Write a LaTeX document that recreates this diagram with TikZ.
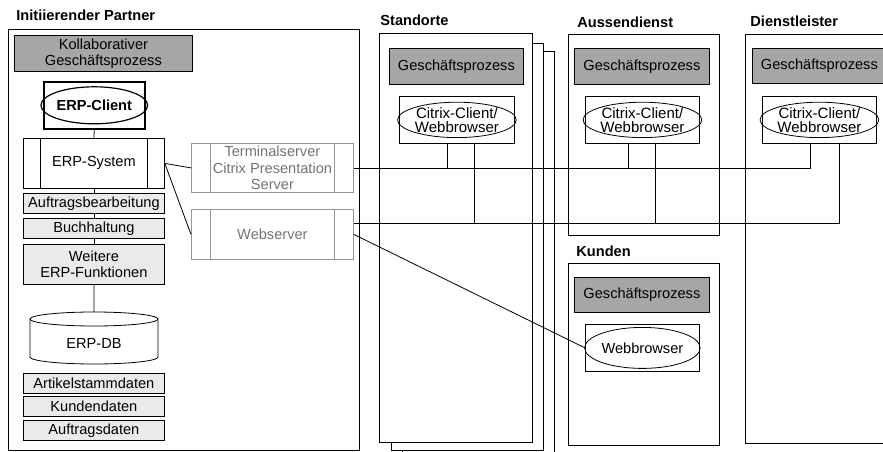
\documentclass[tikz,border=0pt]{standalone}
\usepackage{fontspec}
\setmainfont{Liberation Sans}
\usetikzlibrary{shapes.geometric}
\definecolor{gpgray}{RGB}{166,166,166}
\definecolor{fktgray}{RGB}{234,234,234}
\definecolor{srvgray}{RGB}{150,150,150}
\definecolor{srvtext}{RGB}{115,115,115}
\def\dfont{\fontsize{14.6}{16.3}\selectfont}
\def\cfont{\fontsize{15}{14}\selectfont}
\def\sidebars[#1](#2)(#3){\draw[#1] ([xshift=#3]#2.north west) -- ([xshift=#3]#2.south west); \draw[#1] ([xshift=-#3]#2.north east) -- ([xshift=-#3]#2.south east);}
\tikzset{
  box/.style={draw, rectangle, anchor=north west, inner sep=0pt, align=center, line width=0.8pt},
  gpbox/.style={box, fill=gpgray},
  fktbox/.style={box, fill=fktgray},
  srvbox/.style={box, draw=srvgray, text=srvtext},
  client/.style={draw, ellipse, inner sep=0pt, align=center, line width=0.8pt},
  grouptitle/.style={anchor=base west, inner sep=0pt, font=\dfont\bfseries}
}
\begin{document}
\begin{tikzpicture}[x=1pt, y=-1pt, font=\dfont, line width=0.8pt]
			%%%%% FRAME %%%%%
			\useasboundingbox (0,0) rectangle (883,452);
			\clip (0,0) rectangle (883,452);
			
			%%%%% INITIIERENDER PARTNER %%%%%
			\node[grouptitle] (tpartner) at (16,21) {Initiierender Partner};
			\node[box, minimum width=351pt, minimum height=421pt] (partner) at (8,29) {};
			
			\node[gpbox, minimum width=178pt, minimum height=36pt] (kollab) at (14,35) {Kollaborativer\\Geschäftsprozess};
			\node[box, line width=1.6pt, minimum width=101pt, minimum height=47pt] (clbox) at (43,81) {};
			\node[client, line width=1.2pt, minimum width=91pt, minimum height=37pt, font=\dfont\bfseries] (erpclient) at (clbox.center) {ERP-Client};
			
			\node[box, minimum width=141pt, minimum height=50pt] (erpsys) at (23,138) {ERP-System};
			\sidebars[line width=0.8pt](erpsys)(17pt)
			\node[fktbox, minimum width=141pt, minimum height=20pt] (auftrag) at (23,193) {Auftragsbearbeitung};
			\node[fktbox, minimum width=141pt, minimum height=20pt] (buch) at (23,218) {Buchhaltung};
			\node[fktbox, minimum width=141pt, minimum height=40pt] (weitere) at (23,244) {Weitere\\ERP-Funktionen};
			
			\draw (30,319) -- (30,357) arc[start angle=180, end angle=360, x radius=64pt, y radius=7pt] -- (158,319);
			\draw (94,319) ellipse [x radius=64pt, y radius=7pt];
			\coordinate (dbtop) at (94,312);
			\node (db) at (94,343) {ERP-DB};
			
			\node[fktbox, minimum width=141pt, minimum height=20pt] (artikel) at (23,373) {Artikelstammdaten};
			\node[fktbox, minimum width=141pt, minimum height=20pt] (kdaten) at (23,396) {Kundendaten};
			\node[fktbox, minimum width=141pt, minimum height=20pt] (adaten) at (23,420) {Auftragsdaten};
			
			\draw (clbox.south) -- (erpsys.north);
			\draw (erpsys.south) -- (auftrag.north);
			\draw (auftrag.south) -- (buch.north);
			\draw (buch.south) -- (weitere.north);
			\draw (weitere.south) -- (dbtop);
			
			%%%%% SERVER %%%%%
			\node[srvbox, minimum width=162pt, minimum height=49pt] (term) at (191,143) {Terminalserver\\Citrix Presentation\\Server};
			\sidebars[draw=srvgray](term)(19.5pt)
			\node[srvbox, minimum width=162pt, minimum height=50pt] (web) at (191,209) {Webserver};
			\sidebars[draw=srvgray](web)(19.5pt)
			
			\draw (erpsys.east) -- (term.west);
			\draw (erpsys.east) -- (web.west);
			
			%%%%% STANDORTE %%%%%
			\node[grouptitle] (tstandorte) at (380,26) {Standorte};
			\node[box, fill=white, minimum width=152pt, minimum height=409pt] (st3) at (402,51) {};
			\node[box, fill=white, minimum width=152pt, minimum height=407pt] (st2) at (391,43) {};
			\node[box, fill=white, minimum width=153pt, minimum height=409pt] (st) at (379,33) {};
			\node[gpbox, minimum width=134pt, minimum height=36pt] (stgp) at (389,48) {Geschäftsprozess};
			\node[box, minimum width=115pt, minimum height=47pt] (stcc) at (399,96) {};
			\node[client, minimum width=101pt, minimum height=34pt, font=\cfont] (stcl) at (stcc.center) {Citrix-Client/\\Webbrowser};
			
			%%%%% AUSSENDIENST %%%%%
			\node[grouptitle] (taussen) at (577,28) {Aussendienst};
			\node[box, minimum width=151pt, minimum height=201pt] (ad) at (568,34) {};
			\node[gpbox, minimum width=135pt, minimum height=36pt] (adgp) at (574,48) {Geschäftsprozess};
			\node[box, minimum width=114pt, minimum height=47pt] (adcc) at (585,96) {};
			\node[client, minimum width=100pt, minimum height=34pt, font=\cfont] (adcl) at (adcc.center) {Citrix-Client/\\Webbrowser};
			
			%%%%% KUNDEN %%%%%
			\node[grouptitle] (tkunden) at (576,256) {Kunden};
			\node[box, minimum width=151pt, minimum height=182pt] (kd) at (568,263) {};
			\node[gpbox, minimum width=135pt, minimum height=35pt] (kdgp) at (574,277) {Geschäftsprozess};
			\node[box, minimum width=114pt, minimum height=47pt] (kdwb) at (585,324) {};
			\node[client, minimum width=100pt, minimum height=41pt] (kdcl) at (kdwb.center) {Webbrowser};
			
			%%%%% DIENSTLEISTER %%%%%
			\node[grouptitle] (tdienst) at (750,27) {Dienstleister};
			\node[box, minimum width=160pt, minimum height=409pt] (dl) at (745,34) {};
			\node[gpbox, minimum width=134pt, minimum height=35pt] (dlgp) at (752,48) {Geschäftsprozess};
			\node[box, minimum width=114pt, minimum height=47pt] (dlcc) at (762,96) {};
			\node[client, minimum width=100pt, minimum height=34pt, font=\cfont] (dlcl) at (dlcc.center) {Citrix-Client/\\Webbrowser};
			
			%%%%% NETZ %%%%%
			\coordinate (webbus) at ([yshift=11pt]web.east);
			\draw (term.east) -| ([xshift=-9pt]dlcc.south);
			\draw (webbus) -| ([xshift=20pt]dlcc.south);
			\draw ([xshift=-9.5pt]stcc.south) -- ([xshift=-9.5pt]stcc.south |- term.east);
			\draw ([xshift=17.5pt]stcc.south) -- ([xshift=17.5pt]stcc.south |- webbus);
			\draw ([xshift=-14pt]adcc.south) -- ([xshift=-14pt]adcc.south |- term.east);
			\draw ([xshift=13pt]adcc.south) -- ([xshift=13pt]adcc.south |- webbus);
			\draw (web.east) -- (kdwb.west);
			
\end{tikzpicture}
\end{document}
